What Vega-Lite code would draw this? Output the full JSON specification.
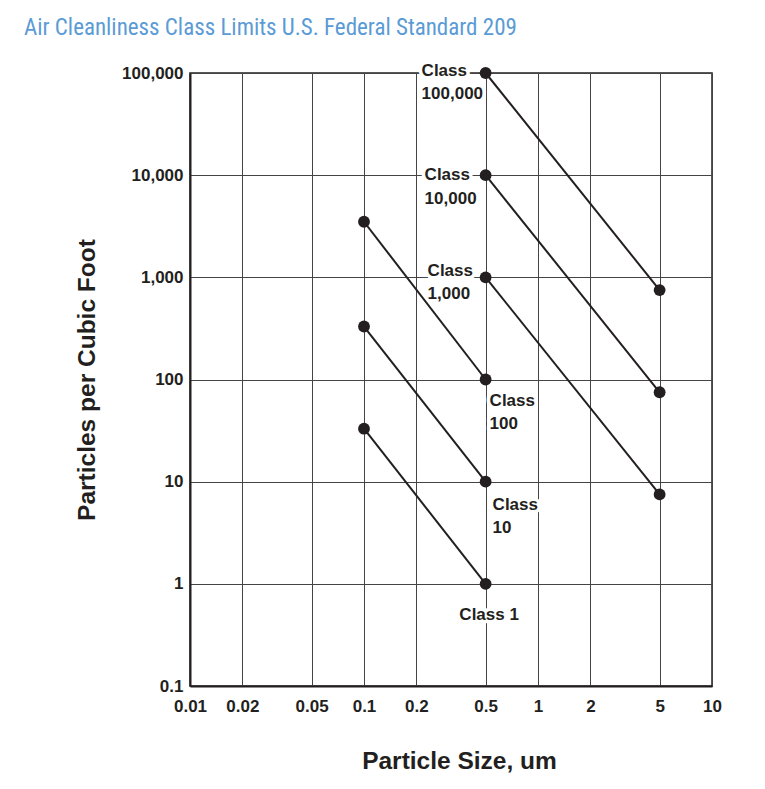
{
  "$schema": "https://vega.github.io/schema/vega-lite/v6.json",
  "width": 522,
  "height": 613,
  "autosize": "none",
  "padding": {"left": 190, "top": 73, "right": 53, "bottom": 103},
  "background": "white",
  "title": {
    "text": "Air Cleanliness Class Limits U.S. Federal Standard 209",
    "anchor": "start",
    "frame": "group",
    "dx": -166,
    "offset": 4,
    "baseline": "alphabetic",
    "font": "Liberation Sans Narrow, Roboto Condensed, DejaVu Sans Condensed, Liberation Sans",
    "fontSize": 23,
    "fontWeight": "normal",
    "color": "#5b9bd5"
  },
  "datasets": {
    "points": [
      {"cls": "1", "size": 0.1, "count": 33},
      {"cls": "1", "size": 0.5, "count": 1},
      {"cls": "10", "size": 0.1, "count": 330},
      {"cls": "10", "size": 0.5, "count": 10},
      {"cls": "100", "size": 0.1, "count": 3500},
      {"cls": "100", "size": 0.5, "count": 100},
      {"cls": "1,000", "size": 0.5, "count": 1000},
      {"cls": "1,000", "size": 5, "count": 7.5},
      {"cls": "10,000", "size": 0.5, "count": 10000},
      {"cls": "10,000", "size": 5, "count": 75},
      {"cls": "100,000", "size": 0.5, "count": 100000},
      {"cls": "100,000", "size": 5, "count": 750}
    ],
    "labels": [
      {"cls": "1", "size": 0.5, "count": 1, "label": "Class 1"},
      {"cls": "10", "size": 0.5, "count": 10, "label": "Class\n10"},
      {"cls": "100", "size": 0.5, "count": 100, "label": "Class\n100"},
      {"cls": "1,000", "size": 0.5, "count": 1000, "label": "Class\n1,000"},
      {"cls": "10,000", "size": 0.5, "count": 10000, "label": "Class\n10,000"},
      {"cls": "100,000", "size": 0.5, "count": 100000, "label": "Class\n100,000"}
    ]
  },
  "config": {
    "view": {"stroke": "#231f20", "strokeWidth": 1.5},
    "axis": {
      "grid": true,
      "gridColor": "#444444",
      "gridWidth": 1,
      "gridOpacity": 1,
      "ticks": false,
      "domain": true,
      "domainColor": "#231f20",
      "domainWidth": 2,
      "labelFont": "Liberation Sans",
      "labelFontSize": 17,
      "labelFontWeight": "bold",
      "labelColor": "#231f20",
      "labelOverlap": false,
      "labelFlush": false,
      "titleFont": "Liberation Sans",
      "titleFontSize": 24.5,
      "titleFontWeight": "bold",
      "titleColor": "#231f20"
    }
  },
  "encoding": {
    "x": {
      "field": "size",
      "type": "quantitative",
      "scale": {"type": "log", "domain": [0.01, 10]},
      "axis": {
        "title": "Particle Size, um",
        "values": [0.01, 0.02, 0.05, 0.1, 0.2, 0.5, 1, 2, 5, 10],
        "format": "~g",
        "labelPadding": 12,
        "titlePadding": 35,
        "titleX": 269
      }
    },
    "y": {
      "field": "count",
      "type": "quantitative",
      "scale": {"type": "log", "domain": [0.1, 100000]},
      "axis": {
        "title": "Particles per Cubic Foot",
        "values": [0.1, 1, 10, 100, 1000, 10000, 100000],
        "format": ",~g",
        "labelPadding": 7,
        "titlePadding": 22
      }
    }
  },
  "layer": [
    {
      "data": {"name": "labels"},
      "mark": {
        "type": "text",
        "lineBreak": "\n",
        "lineHeight": 23.5,
        "font": "Liberation Sans",
        "fontSize": 17,
        "fontWeight": "bold",
        "baseline": "middle",
        "fill": "white",
        "stroke": "white",
        "strokeWidth": 7,
        "strokeJoin": "round",
        "align": {"expr": "datum.cls == '1' ? 'center' : 'left'"},
        "dx": {"expr": "datum.cls == '100,000' ? -64 : datum.cls == '10,000' ? -61 : datum.cls == '1,000' ? -58 : datum.cls == '100' ? 4 : datum.cls == '10' ? 7 : 3.5"},
        "dy": {"expr": "datum.cls == '100,000' ? -2.5 : datum.cls == '10,000' ? 0 : datum.cls == '1,000' ? -6.5 : datum.cls == '100' ? 21 : datum.cls == '10' ? 23 : 31.5"}
      },
      "encoding": {"text": {"field": "label"}}
    },
    {
      "data": {"name": "points"},
      "mark": {"type": "line", "color": "#231f20", "strokeWidth": 2},
      "encoding": {"detail": {"field": "cls"}}
    },
    {
      "data": {"name": "points"},
      "mark": {"type": "point", "filled": true, "color": "#231f20", "opacity": 1, "size": 140},
      "encoding": {}
    },
    {
      "data": {"name": "labels"},
      "mark": {
        "type": "text",
        "lineBreak": "\n",
        "lineHeight": 23.5,
        "font": "Liberation Sans",
        "fontSize": 17,
        "fontWeight": "bold",
        "baseline": "middle",
        "color": "#231f20",
        "align": {"expr": "datum.cls == '1' ? 'center' : 'left'"},
        "dx": {"expr": "datum.cls == '100,000' ? -64 : datum.cls == '10,000' ? -61 : datum.cls == '1,000' ? -58 : datum.cls == '100' ? 4 : datum.cls == '10' ? 7 : 3.5"},
        "dy": {"expr": "datum.cls == '100,000' ? -2.5 : datum.cls == '10,000' ? 0 : datum.cls == '1,000' ? -6.5 : datum.cls == '100' ? 21 : datum.cls == '10' ? 23 : 31.5"}
      },
      "encoding": {"text": {"field": "label"}}
    }
  ]
}
